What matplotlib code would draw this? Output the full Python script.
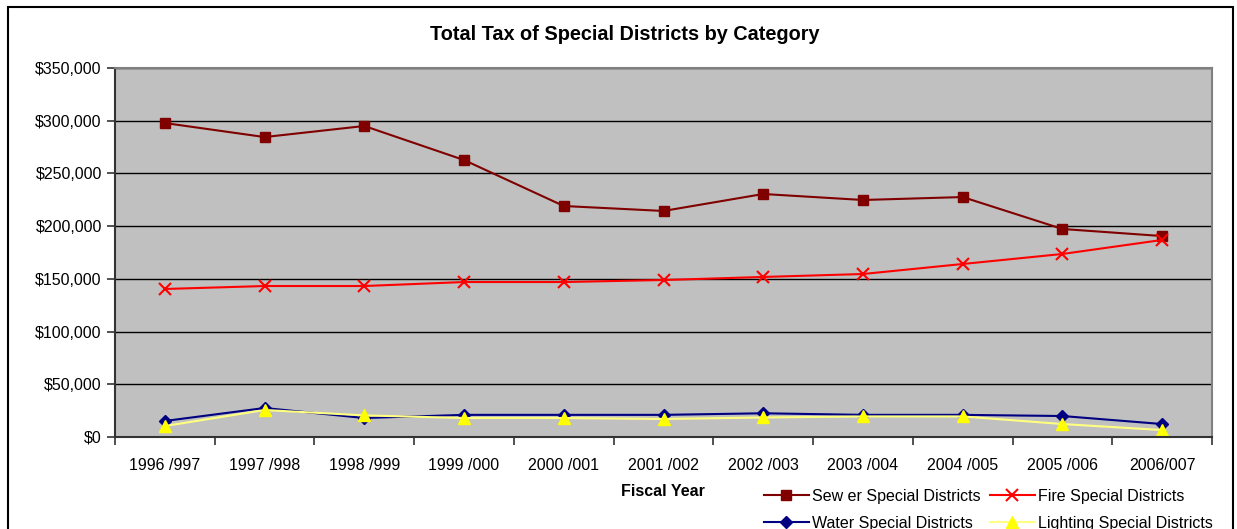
import matplotlib
matplotlib.use('Agg')
import matplotlib.pyplot as plt
from matplotlib.patches import Rectangle
from matplotlib.ticker import FuncFormatter, FixedLocator

## data
years = ['1996 /997', '1997 /998', '1998 /999', '1999 /000', '2000 /001', '2001 /002',
         '2002 /003', '2003 /004', '2004 /005', '2005 /006', '2006/007']
sewer = [297800, 284500, 295000, 262700, 219100, 214400, 230500, 224800, 227600, 197300, 190600]
fire = [140400, 143200, 143200, 147000, 147000, 148900, 151800, 154600, 164100, 173600, 186900]
water = [15200, 27500, 18000, 21000, 21000, 21000, 22500, 21000, 21000, 19900, 12300]
lighting = [10400, 25600, 20500, 18000, 18000, 17100, 18500, 19500, 19500, 12300, 6600]

W, H = 1237, 529
plt.rcParams['font.family'] = ['Liberation Sans', 'DejaVu Sans']
fig = plt.figure(figsize=(W / 100, H / 100), dpi=100)

## outer chart border
fig.patches.append(Rectangle((8 / W, -0.05), 1225 / W, 1.05 - 7 / H, transform=fig.transFigure,
                             fill=False, edgecolor='black', linewidth=1.5))

ax = fig.add_axes([115 / W, (H - 437) / H, 1097 / W, 369 / H])
ax.set_facecolor('#C0C0C0')
x = range(len(years))

l_sew, = ax.plot(x, sewer, color='#800000', marker='s', markersize=7, linewidth=1.5, label='Sew er Special Districts')
l_fire, = ax.plot(x, fire, color='#FF0000', marker='x', markersize=9, markeredgewidth=1.5, linewidth=1.5,
                  label='Fire Special Districts')
l_wat, = ax.plot(x, water, color='#000080', marker='D', markersize=6, linewidth=1.5, label='Water Special Districts')
l_lig, = ax.plot(x, lighting, color='#FFFF80', marker='^', markersize=8, markerfacecolor='#FFFF00',
                 markeredgecolor='#FFFF00', linewidth=1.5, label='Lighting Special Districts')

ax.set_xlim(-0.5, len(years) - 0.5)
ax.set_ylim(0, 350000)
ax.set_yticks(range(0, 350001, 50000))
ax.yaxis.set_major_formatter(FuncFormatter(lambda v, p: '${:,.0f}'.format(v)))
ax.yaxis.grid(True, color='black', linewidth=1)
ax.set_axisbelow(True)

ax.set_xticks(list(x))
ax.set_xticklabels(years)
ax.xaxis.set_minor_locator(FixedLocator([i + 0.5 for i in range(-1, len(years))]))
ax.tick_params(axis='x', which='major', length=0, pad=15, labelsize=11.5)
ax.tick_params(axis='x', which='minor', length=6, width=1.2, direction='out', color='#333333')
ax.tick_params(axis='y', length=6, width=1.2, direction='out', labelsize=11.5, color='#333333')

for s in ['top', 'right']:
    ax.spines[s].set_color('#808080')
    ax.spines[s].set_linewidth(1.5)
for s in ['left', 'bottom']:
    ax.spines[s].set_color('#333333')
    ax.spines[s].set_linewidth(1.5)

fig.text(625 / W, 1 - 35 / H, 'Total Tax of Special Districts by Category', ha='center', va='center',
         fontsize=14.3, fontweight='bold')
fig.text(663 / W, 1 - 492 / H, 'Fiscal Year', ha='center', va='center', fontsize=11.5, fontweight='bold')

## legend fills column-wise, so order handles to read row-wise like the original
fig.legend([l_sew, l_wat, l_fire, l_lig], [h.get_label() for h in [l_sew, l_wat, l_fire, l_lig]],
           loc='upper left', bbox_to_anchor=(764 / W, 1 - 489 / H), ncol=2, frameon=False,
           fontsize=11.5, handlelength=2.8, handletextpad=0.2, columnspacing=0.6, labelspacing=0.75,
           borderaxespad=0, borderpad=0)

fig.savefig('out.png', dpi=100)
